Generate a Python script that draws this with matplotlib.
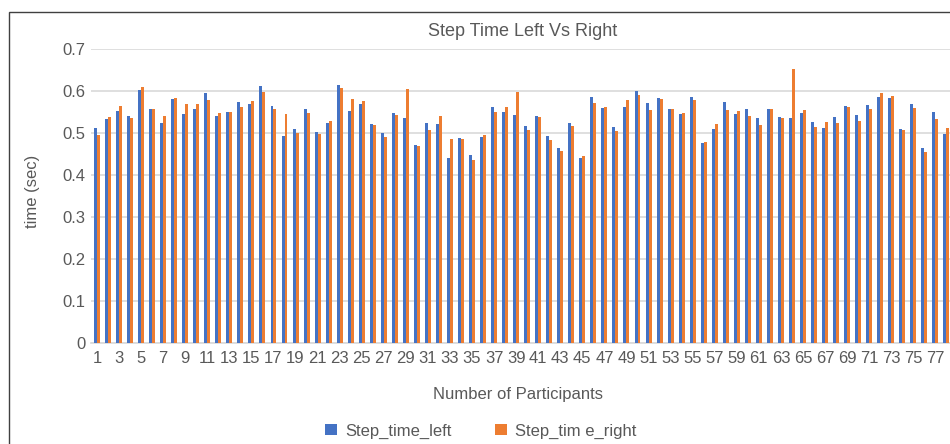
import numpy as np
import matplotlib
matplotlib.use('Agg')
import matplotlib.pyplot as plt
from matplotlib.patches import Rectangle

plt.rcParams['font.family'] = ['Liberation Sans', 'DejaVu Sans']

# step times per participant (seconds)
participants = list(range(1, 79))
step_left = [0.512, 0.534, 0.553, 0.541, 0.602, 0.557, 0.524, 0.581, 0.545, 0.557,
             0.595, 0.541, 0.550, 0.574, 0.569, 0.612, 0.564, 0.493, 0.510, 0.557,
             0.503, 0.524, 0.614, 0.553, 0.569, 0.522, 0.500, 0.548, 0.536, 0.472,
             0.524, 0.522, 0.441, 0.489, 0.448, 0.491, 0.562, 0.550, 0.543, 0.517,
             0.541, 0.493, 0.465, 0.524, 0.441, 0.586, 0.560, 0.515, 0.562, 0.600,
             0.572, 0.583, 0.557, 0.545, 0.586, 0.477, 0.510, 0.574, 0.545, 0.557,
             0.536, 0.557, 0.538, 0.536, 0.548, 0.526, 0.512, 0.538, 0.564, 0.543,
             0.567, 0.586, 0.583, 0.510, 0.569, 0.465, 0.550, 0.498]
step_right = [0.496, 0.538, 0.564, 0.536, 0.609, 0.557, 0.541, 0.583, 0.569, 0.569,
              0.579, 0.548, 0.550, 0.562, 0.576, 0.598, 0.557, 0.545, 0.500, 0.548,
              0.498, 0.529, 0.607, 0.581, 0.576, 0.519, 0.491, 0.543, 0.605, 0.470,
              0.507, 0.541, 0.486, 0.486, 0.436, 0.496, 0.550, 0.562, 0.598, 0.507,
              0.538, 0.484, 0.458, 0.517, 0.446, 0.572, 0.562, 0.505, 0.579, 0.591,
              0.555, 0.581, 0.557, 0.548, 0.579, 0.479, 0.522, 0.555, 0.553, 0.541,
              0.519, 0.557, 0.536, 0.652, 0.555, 0.515, 0.526, 0.524, 0.562, 0.529,
              0.557, 0.595, 0.588, 0.507, 0.560, 0.455, 0.534, 0.512]
series_names = ['Step_time_left', 'Step_tim e_right']

blue = '#4472C4'
orange = '#ED7D31'
grey_text = '#595959'
grid_col = '#D9D9D9'

fig = plt.figure(figsize=(9.5, 4.44), dpi=100)
ax = fig.add_axes([91 / 950, 1 - 343 / 444, 1 - 91 / 950, (343 - 49) / 444])

x = np.array(participants)
w = 0.27
ax.bar(x - w / 2, step_left, width=w, color=blue, label=series_names[0], zorder=3)
ax.bar(x + w / 2, step_right, width=w, color=orange, label=series_names[1], zorder=3)

ax.set_xlim(0.456, 78.33)
ax.set_ylim(0, 0.7)
ax.set_yticks(np.arange(0, 0.71, 0.1))
ax.set_yticklabels(['0'] + ['%.1f' % v for v in np.arange(0.1, 0.71, 0.1)])
ax.set_xticks(x[::2])
ax.set_xticklabels([str(p) for p in participants[::2]])
ax.tick_params(axis='y', length=0, pad=4, labelsize=12, labelcolor=grey_text)
ax.tick_params(axis='x', length=0, pad=6, labelsize=12, labelcolor=grey_text)

ax.grid(axis='y', color=grid_col, linewidth=1.2, zorder=0)
for side in ['top', 'right', 'left']:
    ax.spines[side].set_visible(False)
ax.spines['bottom'].set_color(grid_col)
ax.spines['bottom'].set_linewidth(1.2)

fig.text(523 / 950, 1 - 31.5 / 444, 'Step Time Left Vs Right', ha='center', va='center',
         fontsize=13, color=grey_text)
fig.text(518 / 950, 1 - 394 / 444, 'Number of Participants', ha='center', va='center',
         fontsize=12, color=grey_text)
fig.text(33 / 950, 1 - 191 / 444, 'time (sec)', ha='center', va='center',
         rotation=90, fontsize=12, color=grey_text)

leg = fig.legend(loc='center', bbox_to_anchor=(481 / 950, 1 - 431 / 444), ncol=2,
                 frameon=False, fontsize=12, handlelength=0.7, handleheight=0.7,
                 handletextpad=0.5, columnspacing=2.6)
for t in leg.get_texts():
    t.set_color(grey_text)

# chart area border
fig.patches.append(Rectangle((9 / 950, -0.1), 1.2, 1 - 12 / 444 + 0.1, transform=fig.transFigure,
                             fill=False, edgecolor='#404040', linewidth=1.0))

fig.savefig('out.png', dpi=100)
